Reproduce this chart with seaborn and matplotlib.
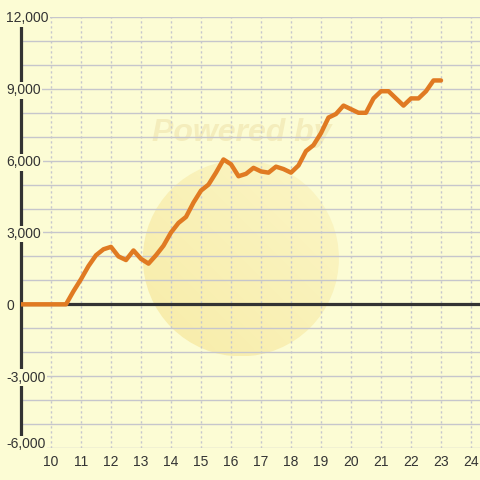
import matplotlib
matplotlib.use("Agg")
import matplotlib.pyplot as plt
import seaborn as sns
import pandas as pd
import numpy as np
from matplotlib.patches import Ellipse
from matplotlib.colors import to_rgb

# ---- data ----
x_vals = [9.0, 9.25, 9.5, 9.75, 10.0, 10.25, 10.5, 10.75, 11.0, 11.25, 11.5, 11.75,
          12.0, 12.25, 12.5, 12.75, 13.0, 13.25, 13.5, 13.75, 14.0, 14.25, 14.5, 14.75,
          15.0, 15.25, 15.5, 15.75, 16.0, 16.25, 16.5, 16.75, 17.0, 17.25, 17.5, 17.75,
          18.0, 18.25, 18.5, 18.75, 19.0, 19.25, 19.5, 19.75, 20.0, 20.25, 20.5, 20.75,
          21.0, 21.25, 21.5, 21.75, 22.0, 22.25, 22.5, 22.75, 23.0]
y_vals = [0, 0, 0, 0, 0, 0, 0, 550, 1050, 1600, 2050, 2300,
          2400, 2000, 1850, 2250, 1900, 1700, 2050, 2450, 3000, 3400, 3650, 4250,
          4750, 5000, 5500, 6050, 5850, 5350, 5450, 5700, 5550, 5500, 5750, 5650,
          5500, 5800, 6400, 6650, 7150, 7800, 7950, 8300, 8150, 8000, 8000, 8600,
          8900, 8900, 8600, 8300, 8600, 8600, 8900, 9350, 9350]
x_ticks = [10, 11, 12, 13, 14, 15, 16, 17, 18, 19, 20, 21, 22, 23, 24]
y_ticks = [-6000, -3000, 0, 3000, 6000, 9000, 12000]
y_tick_labels = ["-6,000", "-3,000", "0", "3,000", "6,000", "9,000", "12,000"]

df = pd.DataFrame({"x": x_vals, "y": y_vals})

BG = "#fcfcd4"
DARK = "#333333"
GRID = "#c6c6cc"
ORANGE = "#e07a22"

sns.set_theme(style="white")
plt.rcParams["font.family"] = ["Liberation Sans", "DejaVu Sans"]

fig = plt.figure(figsize=(4.8, 4.8), dpi=100, facecolor=BG)
ax = fig.add_axes([21 / 480, 32 / 480, 459 / 480, 431 / 480])
ax.set_facecolor(BG)

XMIN, XMAX = 9, 9 + 459 / 30
YMIN, YMAX = -6000, 12000
ax.set_xlim(XMIN, XMAX)
ax.set_ylim(YMIN, YMAX)

# ---- watermark (faint logo disc with diagonal gradient + text) ----
cx, cy = 16.33, 1920
rx, ry = 98 / 30, 98 * 18000 / 431
n = 200
u = np.linspace(0, 1, n)
U, V = np.meshgrid(u, u)
t = (U + (1 - V)) / 2  # 0 at upper-left... diagonal
t = ((1 - U) + (1 - V)) / 2  # 1 at lower-left, 0 at upper-right (origin lower)
c_light = np.array(to_rgb("#fbf6c6"))
c_dark = np.array(to_rgb("#f8eca8"))
img = c_light[None, None, :] * (1 - t[..., None]) + c_dark[None, None, :] * t[..., None]
clip = Ellipse((cx, cy), 2 * rx, 2 * ry, transform=ax.transData,
               facecolor="none", edgecolor="none")
ax.add_patch(clip)
im = ax.imshow(img, extent=[cx - rx, cx + rx, cy - ry, cy + ry], origin="lower",
               aspect="auto", zorder=0.2, interpolation="bilinear")
im.set_clip_path(clip)
ax.text(0.48, 0.73, "Powered by", transform=ax.transAxes, ha="center", va="center",
        fontsize=23, fontweight="bold", fontstyle="italic", color="#f4edbc", zorder=0.3)
ax.set_xlim(XMIN, XMAX)
ax.set_ylim(YMIN, YMAX)

# ---- grid ----
ax.set_axisbelow(True)
ax.set_yticks(np.arange(YMIN, YMAX + 1, 1000))
ax.yaxis.grid(True, color=GRID, lw=1.0, ls="-")
ax.set_xticks(x_ticks)
ax.xaxis.grid(True, color=GRID, lw=1.0, ls=(0, (1.6, 2.0)))
ax.tick_params(axis="y", labelleft=False, length=0)
ax.tick_params(axis="x", length=0, pad=5, labelsize=10, labelcolor=DARK)

for s in ["top", "right", "bottom"]:
    ax.spines[s].set_visible(False)
ax.spines["left"].set_color(DARK)
ax.spines["left"].set_linewidth(2.3)
ax.spines["left"].set_zorder(2.4)

ax.axhline(0, color=DARK, lw=2.3, zorder=2.5)

sns.lineplot(data=df, x="x", y="y", ax=ax, color=ORANGE, lw=3.2, zorder=3)
ax.set_xlabel("")
ax.set_ylabel("")

# ---- y tick labels on an overlay axis so they sit above the axis line ----
ax2 = ax.twinx()
ax2.set_ylim(YMIN, YMAX)
ax2.set_yticks(y_ticks)
ax2.set_yticklabels(y_tick_labels)
ax2.yaxis.tick_left()
ax2.tick_params(axis="y", length=0, pad=10.5, labelsize=10, labelcolor=DARK)
for lbl in ax2.get_yticklabels():
    lbl.set_horizontalalignment("left")
    lbl.set_bbox(dict(facecolor=BG, edgecolor="none", pad=1.0))
ax2.get_yticklabels()[0].set_verticalalignment("baseline")
for s in ax2.spines.values():
    s.set_visible(False)
ax2.patch.set_visible(False)
ax2.grid(False)

fig.savefig("out.png", dpi=100, facecolor=BG)
